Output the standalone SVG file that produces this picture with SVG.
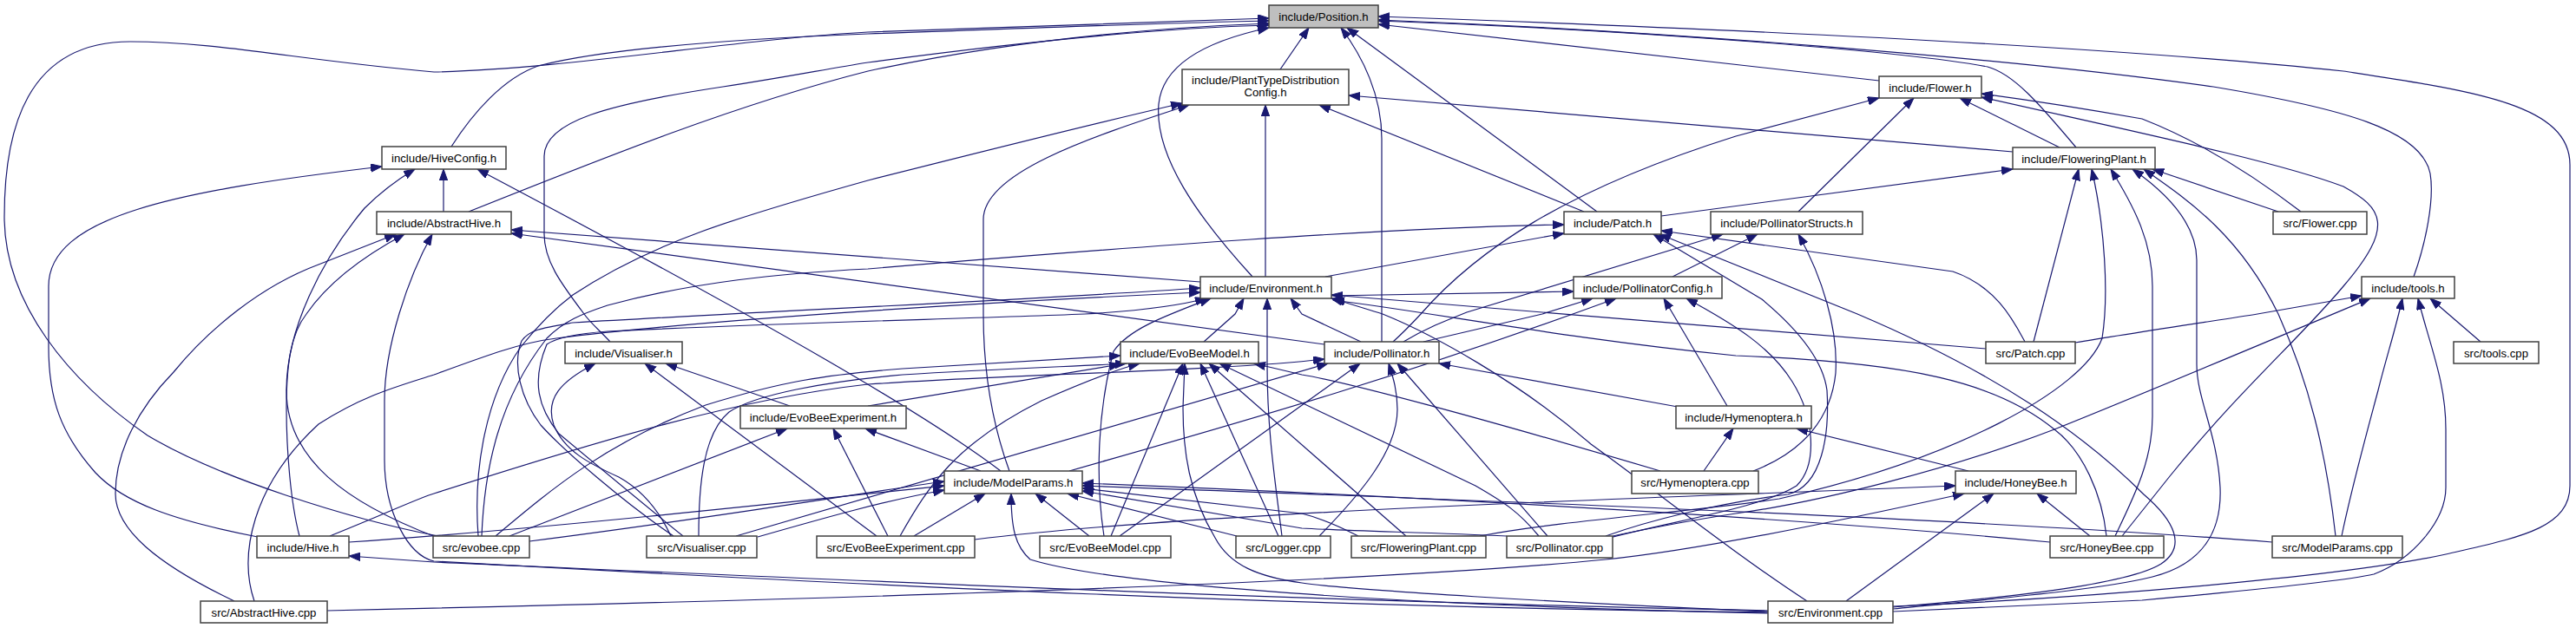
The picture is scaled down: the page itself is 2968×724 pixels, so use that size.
<svg xmlns="http://www.w3.org/2000/svg" width="2968" height="724" viewBox="0 0 2968 724">
<defs>
<marker id="a" markerWidth="14" markerHeight="10" refX="13" refY="4.7" orient="auto" markerUnits="userSpaceOnUse"><path d="M0,0 L13,4.7 L0,9.4 z" fill="#191970" stroke="#191970" stroke-width="1"/></marker>
<style>
.n rect{fill:#fff;stroke:#404040;stroke-width:1.5}
.n text{font-family:"Liberation Sans",Arial,sans-serif;font-size:13.2px;fill:#000;text-anchor:middle}
#edges path{fill:none;stroke:#191970;stroke-width:1.2;marker-end:url(#a)}
</style>
</defs>
<rect width="2968" height="724" fill="#fff"/>
<g id="edges">
<path d="M505,618 C400,598 250,550 170,502 C80,440 5,350 5,250 C5,150 30,48 150,48 C250,48 350,70 500,83 C650,80 850,45 1000,37 C1200,30 1350,24 1462,21"/>
<path d="M520,169 C545,130 580,90 620,76 C700,55 850,45 1000,39 C1200,32 1350,26 1462,24"/>
<path d="M540,244 C700,180 850,120 1000,82 C1150,50 1300,33 1462,27"/>
<path d="M703,394 C690,380 680,372 673,362 C645,325 627,300 627,270 L627,180 C627,140 700,120 833,100 C900,90 950,80 1000,72 C1200,45 1350,32 1462,29"/>
<path d="M1443,319 C1380,250 1330,180 1335,120 C1340,70 1400,45 1462,32"/>
<path d="M1475,80 L1508,32"/>
<path d="M1592,394 L1592,160 C1592,110 1570,65 1545,32"/>
<path d="M1840,244 L1552,32"/>
<path d="M2165,93 L1588,28"/>
<path d="M2392,170 C2350,120 2320,85 2290,77 C2200,60 1900,35 1588,24"/>
<path d="M2781,319 C2795,280 2805,230 2800,200 C2790,150 2700,125 2550,100 C2300,65 1900,35 1588,23"/>
<path d="M2181,699 C2400,690 2700,665 2818,639 C2900,620 2961,610 2961,560 L2961,190 C2961,120 2850,105 2700,82 C2400,50 1900,30 1588,19"/>
<path d="M511,244 L511,195"/>
<path d="M1153,543 C1070,480 900,380 550,195"/>
<path d="M297,619 C200,600 143,580 110,545 C70,500 56,460 56,400 L56,330 C56,250 200,220 440,192"/>
<path d="M502,619 C400,580 330,530 330,450 C330,380 370,300 420,240 C440,220 458,207 478,195"/>
<path d="M270,693 C180,650 133,610 133,569 C133,520 160,470 200,429 C240,380 300,330 367,305 L456,270"/>
<path d="M345,618 C335,580 330,520 330,470 C330,420 335,385 353,362 C375,330 410,300 466,270"/>
<path d="M2037,706 C1500,700 1000,675 500,647 C470,640 443,590 443,530 L443,462 C443,400 470,320 498,270"/>
<path d="M1383,325 L589,265"/>
<path d="M1526,397 L589,269"/>
<path d="M1458,319 L1458,121"/>
<path d="M1825,244 L1520,121"/>
<path d="M2319,175 L1554,110"/>
<path d="M1163,543 C1140,480 1133,420 1133,362 L1133,253 C1133,200 1250,160 1370,121"/>
<path d="M551,618 C545,540 560,457 600,400 C620,375 640,355 660,340 C750,280 850,250 1000,208 C1150,170 1250,145 1362,119"/>
<path d="M1605,394 C1615,385 1625,375 1637,362 C1700,290 1800,220 2000,157 L2165,113"/>
<path d="M2072,244 L2205,113"/>
<path d="M2373,170 L2258,113"/>
<path d="M2651,244 C2600,205 2540,165 2468,137 C2400,125 2350,117 2283,108"/>
<path d="M2445,618 L2500,549 C2580,450 2650,390 2700,330 C2760,260 2745,240 2700,215 C2620,185 2450,150 2283,112"/>
<path d="M1914,249 L2319,195"/>
<path d="M2343,394 L2395,195"/>
<path d="M1705,618 C1800,600 1950,590 2050,575 C2250,530 2400,450 2422,390 C2430,340 2425,260 2410,195"/>
<path d="M2437,618 C2460,570 2480,530 2480,480 L2480,330 C2480,280 2460,240 2432,195"/>
<path d="M2181,702 C2300,690 2420,680 2480,665 C2540,650 2560,610 2558,562 C2555,500 2531,460 2531,420 L2531,300 C2531,260 2500,225 2457,195"/>
<path d="M2691,618 C2680,520 2660,440 2625,362 C2580,270 2520,230 2470,195"/>
<path d="M2625,244 L2480,195"/>
<path d="M2333,394 C2320,370 2300,330 2250,313 L1914,266"/>
<path d="M2181,700 C2300,690 2450,675 2490,650 C2520,630 2505,600 2470,570 C2400,500 2300,430 2140,362 L1912,270"/>
<path d="M1850,618 C1900,600 1980,580 2060,570 C2100,560 2108,500 2105,450 C2100,410 2060,370 2030,345 L1905,270"/>
<path d="M1527,319 L1802,269"/>
<path d="M555,618 C558,540 575,460 630,390 C650,370 670,362 700,352 C800,325 900,315 1000,310 C1300,285 1600,262 1802,259"/>
<path d="M1617,394 C1640,380 1660,372 1690,360 L1985,270"/>
<path d="M1927,319 L2025,270"/>
<path d="M2020,543 C2080,520 2110,480 2115,430 C2118,380 2100,320 2072,270"/>
<path d="M1534,341 L1813,336"/>
<path d="M1640,394 L1777,362 L1835,344"/>
<path d="M1232,543 C1400,495 1600,440 1862,344"/>
<path d="M1990,468 L1917,344"/>
<path d="M1854,620 C1940,598 2030,585 2070,560 C2095,535 2090,480 2065,440 C2040,400 2000,375 1943,344"/>
<path d="M1387,394 L1423,362 L1433,344"/>
<path d="M1568,394 L1500,362 L1487,344"/>
<path d="M1477,618 C1470,560 1460,500 1460,420 L1460,344"/>
<path d="M1272,618 C1263,560 1263,480 1283,405 C1300,380 1340,365 1395,344"/>
<path d="M2288,402 L1534,340"/>
<path d="M2427,618 C2422,570 2400,520 2367,495 C2300,440 2200,418 2000,410 C1800,390 1650,360 1536,346"/>
<path d="M2082,693 C2000,640 1900,560 1833,512 C1750,440 1650,385 1593,362 C1570,355 1555,350 1534,344"/>
<path d="M293,693 C275,640 290,560 367,489 C420,455 460,445 500,432 C560,410 600,395 641,390 C800,370 1100,350 1383,337"/>
<path d="M776,618 C720,580 650,520 623,490 C600,460 590,420 601,393 C610,380 625,378 660,372 C900,358 1200,345 1383,332"/>
<path d="M787,618 C740,580 680,530 644,500 C620,470 612,440 630,397 C640,390 660,385 700,382 C900,372 1100,368 1250,362 C1320,358 1360,352 1390,344"/>
<path d="M571,618 C640,560 700,510 813,467 C900,440 950,432 1040,425 L1291,410"/>
<path d="M805,618 C805,560 810,500 840,475 C870,455 950,440 1040,432 C1150,425 1250,422 1298,419"/>
<path d="M1037,618 C1070,560 1100,512 1200,462 C1250,440 1290,425 1313,419"/>
<path d="M1000,468 L1291,420"/>
<path d="M1280,618 L1363,419"/>
<path d="M2037,705 C1800,695 1550,680 1500,672 C1450,665 1417,652 1400,620 C1370,570 1363,520 1363,470 L1365,419"/>
<path d="M1473,618 L1383,419"/>
<path d="M1620,618 L1393,419"/>
<path d="M1773,618 C1750,590 1733,579 1700,560 L1405,419"/>
<path d="M1913,543 C1700,480 1550,440 1500,432 L1445,419"/>
<path d="M587,618 L907,494"/>
<path d="M1023,618 L960,494"/>
<path d="M1130,543 L997,494"/>
<path d="M773,618 C760,590 740,565 713,550 C680,535 650,520 638,490 C628,460 645,440 686,419"/>
<path d="M1010,618 L743,419"/>
<path d="M910,468 L767,419"/>
<path d="M1963,543 L1997,494"/>
<path d="M2268,543 L2070,494"/>
<path d="M2127,693 L2297,569"/>
<path d="M2408,618 L2347,569"/>
<path d="M1123,622 C1300,600 1600,585 2000,570 L2253,560"/>
<path d="M377,704 C1000,690 1600,670 1850,645 C1950,635 2100,605 2263,569"/>
<path d="M1933,469 L1658,419"/>
<path d="M1290,618 L1567,419"/>
<path d="M1520,618 C1567,570 1610,520 1610,472 C1610,450 1605,435 1600,419"/>
<path d="M1783,618 L1610,419"/>
<path d="M848,618 L1530,419"/>
<path d="M380,618 C450,590 480,575 500,569 C700,505 850,460 1000,443 C1200,430 1400,428 1526,414"/>
<path d="M610,624 C800,600 950,575 1088,555"/>
<path d="M402,625 C600,612 900,580 1088,560"/>
<path d="M873,619 C950,597 1020,577 1088,565"/>
<path d="M1053,618 L1135,569"/>
<path d="M2037,707 C1700,700 1300,680 1187,645 C1170,630 1165,610 1165,569"/>
<path d="M1255,618 L1193,569"/>
<path d="M1425,618 L1230,569"/>
<path d="M2362,625 C2100,600 1700,575 1247,557"/>
<path d="M2618,625 C2300,600 1800,580 1247,560"/>
<path d="M1565,618 C1540,605 1520,597 1500,592 L1247,563"/>
<path d="M1736,618 C1650,614 1550,612 1500,609 L1247,566"/>
<path d="M2037,704 C1500,693 1000,670 500,648 L402,641"/>
<path d="M2181,705 C2300,700 2400,695 2468,692 C2600,680 2700,670 2735,662 C2780,645 2818,600 2818,562 L2818,495 C2818,440 2800,400 2786,344"/>
<path d="M2698,618 C2710,560 2728,495 2740,450 C2750,410 2760,380 2768,344"/>
<path d="M2858,394 L2800,344"/>
<path d="M2391,395 C2450,385 2550,370 2601,362 L2721,341"/>
<path d="M1858,618 C1920,605 1980,595 2000,592 C2100,578 2250,540 2367,495 C2450,462 2550,420 2731,344"/>
</g>
<g id="n_position" class="n"><rect x="1462" y="6" width="126" height="26" style="fill:#bfbfbf"/><text x="1525" y="23.5">include/Position.h</text></g>
<g id="n_ptdc" class="n"><rect x="1362" y="80" width="192" height="41"/><text x="1458" y="97">include/PlantTypeDistribution</text><text x="1458" y="111">Config.h</text></g>
<g id="n_flower_h" class="n"><rect x="2165" y="88" width="118" height="25"/><text x="2224" y="105.5">include/Flower.h</text></g>
<g id="n_hiveconfig" class="n"><rect x="440" y="169" width="143" height="26"/><text x="511.5" y="186.5">include/HiveConfig.h</text></g>
<g id="n_floweringplant_h" class="n"><rect x="2319" y="170" width="164" height="25"/><text x="2401" y="187.5">include/FloweringPlant.h</text></g>
<g id="n_abstracthive_h" class="n"><rect x="434" y="244" width="155" height="26"/><text x="511.5" y="261.5">include/AbstractHive.h</text></g>
<g id="n_patch_h" class="n"><rect x="1802" y="244" width="112" height="26"/><text x="1858" y="261.5">include/Patch.h</text></g>
<g id="n_pollstructs" class="n"><rect x="1971" y="244" width="175" height="26"/><text x="2058.5" y="261.5">include/PollinatorStructs.h</text></g>
<g id="n_flower_cpp" class="n"><rect x="2619" y="244" width="108" height="26"/><text x="2673" y="261.5">src/Flower.cpp</text></g>
<g id="n_environment_h" class="n"><rect x="1383" y="319" width="151" height="25"/><text x="1458.5" y="336.5">include/Environment.h</text></g>
<g id="n_pollconfig" class="n"><rect x="1813" y="319" width="171" height="25"/><text x="1898.5" y="336.5">include/PollinatorConfig.h</text></g>
<g id="n_tools_h" class="n"><rect x="2721" y="319" width="107" height="25"/><text x="2774.5" y="336.5">include/tools.h</text></g>
<g id="n_visualiser_h" class="n"><rect x="651" y="394" width="135" height="25"/><text x="718.5" y="411.5">include/Visualiser.h</text></g>
<g id="n_evobeemodel_h" class="n"><rect x="1291" y="394" width="159" height="25"/><text x="1370.5" y="411.5">include/EvoBeeModel.h</text></g>
<g id="n_pollinator_h" class="n"><rect x="1526" y="394" width="132" height="25"/><text x="1592" y="411.5">include/Pollinator.h</text></g>
<g id="n_patch_cpp" class="n"><rect x="2288" y="394" width="103" height="25"/><text x="2339.5" y="411.5">src/Patch.cpp</text></g>
<g id="n_tools_cpp" class="n"><rect x="2827" y="394" width="98" height="25"/><text x="2876" y="411.5">src/tools.cpp</text></g>
<g id="n_evobeeexp_h" class="n"><rect x="853" y="468" width="191" height="26"/><text x="948.5" y="485.5">include/EvoBeeExperiment.h</text></g>
<g id="n_hymenoptera_h" class="n"><rect x="1931" y="468" width="156" height="26"/><text x="2009" y="485.5">include/Hymenoptera.h</text></g>
<g id="n_modelparams_h" class="n"><rect x="1088" y="543" width="159" height="26"/><text x="1167.5" y="560.5">include/ModelParams.h</text></g>
<g id="n_hymenoptera_cpp" class="n"><rect x="1880" y="543" width="146" height="26"/><text x="1953" y="560.5">src/Hymenoptera.cpp</text></g>
<g id="n_honeybee_h" class="n"><rect x="2253" y="543" width="139" height="26"/><text x="2322.5" y="560.5">include/HoneyBee.h</text></g>
<g id="n_hive_h" class="n"><rect x="296" y="618" width="106" height="25"/><text x="349" y="635.5">include/Hive.h</text></g>
<g id="n_evobee_cpp" class="n"><rect x="499" y="618" width="111" height="25"/><text x="554.5" y="635.5">src/evobee.cpp</text></g>
<g id="n_visualiser_cpp" class="n"><rect x="745" y="618" width="127" height="25"/><text x="808.5" y="635.5">src/Visualiser.cpp</text></g>
<g id="n_evobeeexp_cpp" class="n"><rect x="941" y="618" width="182" height="25"/><text x="1032" y="635.5">src/EvoBeeExperiment.cpp</text></g>
<g id="n_evobeemodel_cpp" class="n"><rect x="1198" y="618" width="151" height="25"/><text x="1273.5" y="635.5">src/EvoBeeModel.cpp</text></g>
<g id="n_logger_cpp" class="n"><rect x="1424" y="618" width="109" height="25"/><text x="1478.5" y="635.5">src/Logger.cpp</text></g>
<g id="n_floweringplant_cpp" class="n"><rect x="1557" y="618" width="155" height="25"/><text x="1634.5" y="635.5">src/FloweringPlant.cpp</text></g>
<g id="n_pollinator_cpp" class="n"><rect x="1736" y="618" width="122" height="25"/><text x="1797" y="635.5">src/Pollinator.cpp</text></g>
<g id="n_honeybee_cpp" class="n"><rect x="2362" y="618" width="131" height="25"/><text x="2427.5" y="635.5">src/HoneyBee.cpp</text></g>
<g id="n_modelparams_cpp" class="n"><rect x="2618" y="618" width="150" height="25"/><text x="2693" y="635.5">src/ModelParams.cpp</text></g>
<g id="n_abstracthive_cpp" class="n"><rect x="231" y="693" width="146" height="25"/><text x="304" y="710.5">src/AbstractHive.cpp</text></g>
<g id="n_environment_cpp" class="n"><rect x="2037" y="693" width="144" height="25"/><text x="2109" y="710.5">src/Environment.cpp</text></g>
</svg>
